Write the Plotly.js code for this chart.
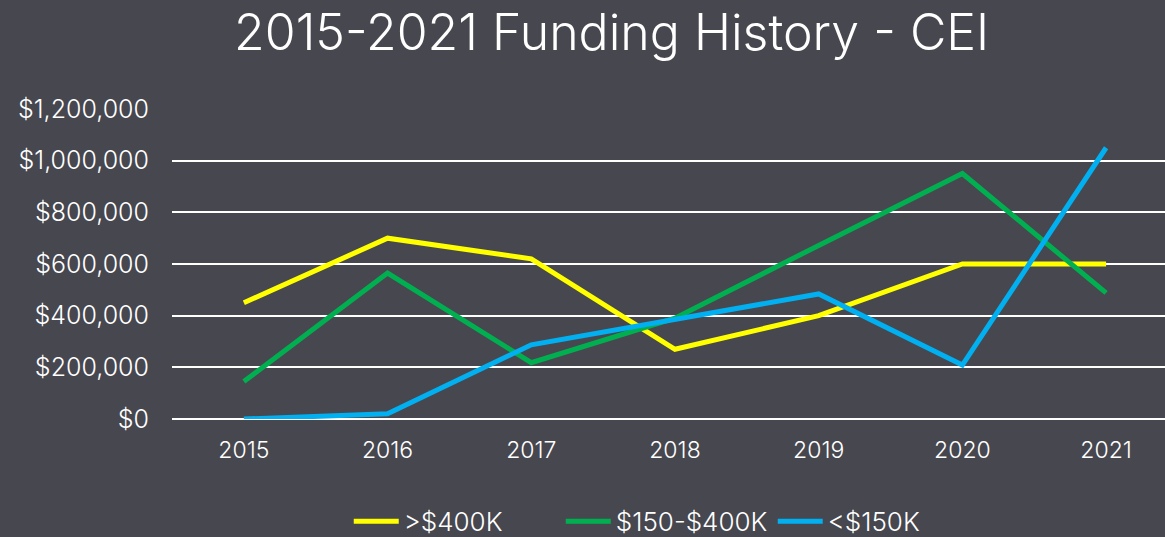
<!DOCTYPE html>
<html><head><meta charset="utf-8">
<script src="https://cdn.plot.ly/plotly-3.0.1.min.js"></script>
<style>html,body{margin:0;padding:0;background:#47474f;}#chart{width:1165px;height:537px;}</style>
</head><body><div id="chart"></div>
<script>
const years = ['2015','2016','2017','2018','2019','2020','2021'];
const over400k = [450000, 700000, 620000, 270000, 400000, 600000, 600000];
const mid150to400k = [145000, 565000, 218000, 390000, 672000, 950000, 488000];
const under150k = [0, 20000, 287000, 387000, 484000, 209000, 1050000];
const seriesNames = ['>$400K', '$150-$400K', '<$150K'];
const seriesColors = ['#ffff00', '#00b050', '#00b0f0'];
const tickVals = [0, 200000, 400000, 600000, 800000, 1000000, 1200000];
const tickText = ['$0', '$200,000', '$400,000', '$600,000', '$800,000', '$1,000,000', '$1,200,000'];

const font = 'Inter, "Open Sans", sans-serif';
const data = [over400k, mid150to400k, under150k].map((v, i) => ({
  x: years, y: v, type: 'scatter', mode: 'lines', name: seriesNames[i],
  line: {color: seriesColors[i], width: 5}, cliponaxis: false
}));
const layout = {
  width: 1165, height: 537,
  paper_bgcolor: '#47474f', plot_bgcolor: '#47474f',
  margin: {l: 172, r: 0, t: 109, b: 118, autoexpand: false},
  title: {text: '2015-2021 Funding History - CEI', x: 0.525, xanchor: 'center', y: 0.94, yanchor: 'middle',
          font: {family: font, size: 50, color: '#ffffff', weight: 300}},
  xaxis: {type: 'category', range: [-0.5, 6.41], showgrid: false, zeroline: false, showline: false, automargin: false,
          ticks: '', tickfont: {family: font, size: 23, color: '#ffffff', weight: 300}, ticklabelstandoff: 15},
  yaxis: {range: [0, 1200000], tickvals: tickVals, ticktext: tickText, showgrid: true, automargin: false,
          gridcolor: '#ffffff', gridwidth: 2, zeroline: true, zerolinecolor: '#ffffff', zerolinewidth: 2,
          showline: false, ticks: '',
          ticklabelstandoff: 22, tickfont: {family: font, size: 25, color: '#ffffff', weight: 300}},
  legend: {orientation: 'h', x: 0.178, xanchor: 'left', y: -0.33, yanchor: 'middle',
           font: {family: font, size: 26, color: '#ffffff', weight: 300}, itemwidth: 45, traceorder: 'normal',
           entrywidth: 152, entrywidthmode: 'pixels'},
  showlegend: true
};
Plotly.newPlot('chart', data, layout, {displayModeBar: false, staticPlot: true});
</script></body></html>
